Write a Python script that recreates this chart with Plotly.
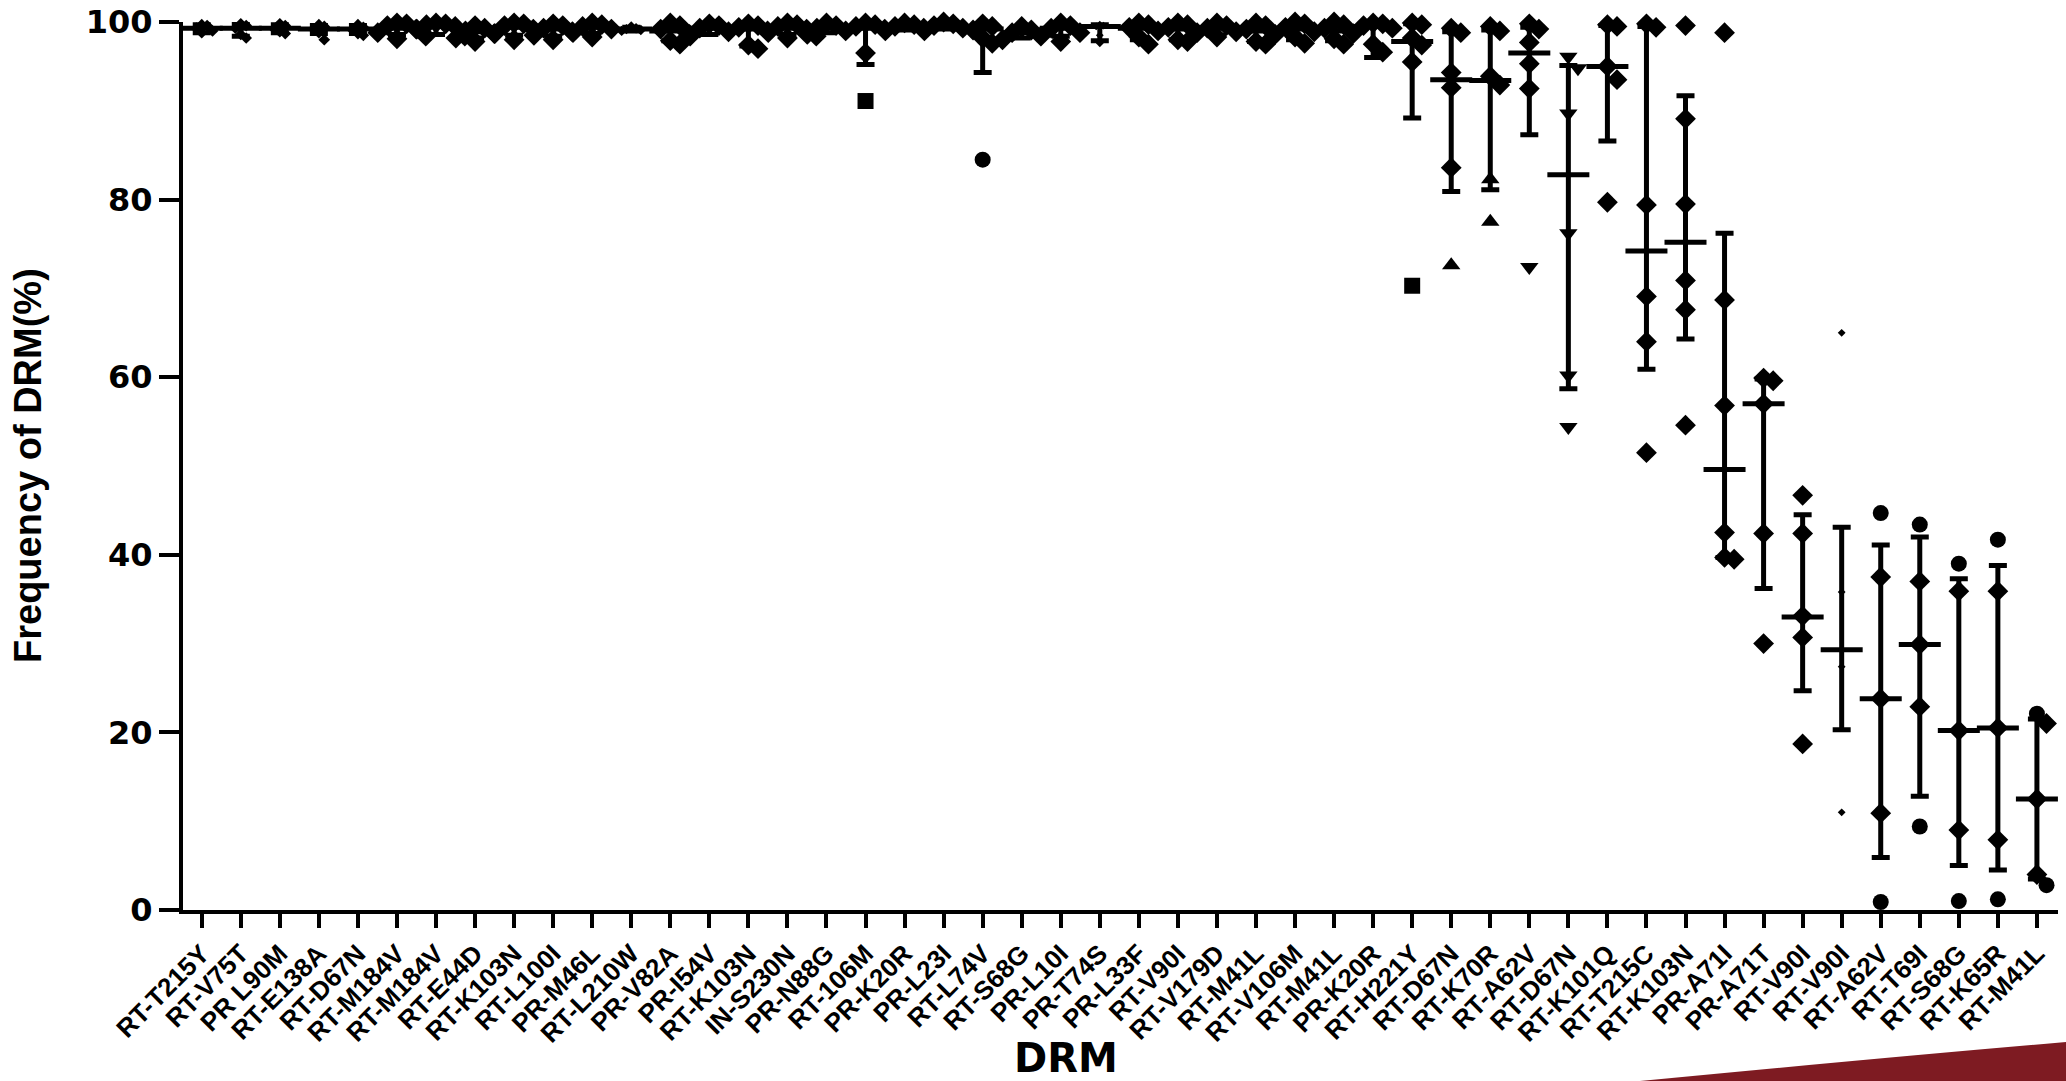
import plotly.graph_objects as go

# ---------------- data ----------------
labels = ["RT-T215Y", "RT-V75T", "PR L90M", "RT-E138A", "RT-D67N", "RT-M184V", "RT-M184V", "RT-E44D",
          "RT-K103N", "RT-L100I", "PR-M46L", "RT-L210W", "PR-V82A", "PR-I54V", "RT-K103N", "IN-S230N",
          "PR-N88G", "RT-106M", "PR-K20R", "PR-L23I", "RT-L74V", "RT-S68G", "PR-L10I", "PR-T74S",
          "PR-L33F", "RT-V90I", "RT-V179D", "RT-M41L", "RT-V106M", "RT-M41L", "PR-K20R", "RT-H221Y",
          "RT-D67N", "RT-K70R", "RT-A62V", "RT-D67N", "RT-K101Q", "RT-T215C", "RT-K103N", "PR-A71I",
          "PR-A71T", "RT-V90I", "RT-V90I", "RT-A62V", "RT-T69I", "RT-S68G", "RT-K65R", "RT-M41L"]

medians = [99.3, 99.3, 99.3, 99.2, 99.2, 99.3, 99.5, 98.9, 99.4, 99.2, 99.4, 99.2, 99.0, 99.3, 99.2, 99.3,
           99.3, 99.3, 99.5, 99.6, 99.2, 98.8, 99.3, 99.5, 99.3, 99.2, 99.3, 99.0, 99.2, 99.0, 99.5, 97.8,
           93.5, 93.4, 96.5, 82.8, 95.0, 74.2, 75.2, 49.6, 57.0, 33.0, 29.3, 23.8, 29.9, 20.2, 20.5, 12.5]
q1 = [98.8, 98.4, 98.8, 98.7, 98.7, 98.6, 98.6, 98.2, 98.5, 98.4, 98.7, 99.0, 97.9, 98.6, 97.3, 98.6,
      98.8, 95.2, 99.1, 99.2, 94.3, 98.2, 98.4, 97.9, 98.0, 98.0, 98.5, 97.8, 98.0, 97.9, 96.0, 89.2,
      80.9, 81.1, 87.3, 58.7, 86.6, 60.9, 64.3, 39.7, 36.2, 24.7, 20.3, 5.9, 12.8, 5.0, 4.5, 3.5]
q3 = [99.7, 99.8, 99.7, 99.6, 99.6, 99.8, 99.8, 99.4, 99.8, 99.6, 99.8, 99.4, 99.6, 99.7, 99.7, 99.7,
      99.7, 99.8, 99.8, 99.9, 99.7, 99.3, 99.7, 99.7, 99.8, 99.8, 99.8, 99.7, 99.9, 99.8, 99.8, 99.8,
      98.9, 99.1, 99.4, 95.1, 99.6, 99.5, 91.7, 76.2, 59.8, 44.5, 43.1, 41.1, 42.0, 37.3, 38.8, 21.5]

points = [
    [99.7, 99.6, 99.3, 99.0, 98.8],
    [99.8, 99.6, 99.3, 98.6, 98.2],
    [99.8, 99.6, 99.2, 98.9, 98.7],
    [99.7, 99.5, 99.2, 98.8, 98.0],
    [99.7, 99.4, 99.1, 98.7, 98.5],
    [99.9, 99.8, 99.6, 99.2, 98.8, 98.4, 98.1],
    [99.9, 99.8, 99.7, 99.5, 99.2, 98.4],
    [99.6, 99.3, 99.0, 98.7, 98.2, 97.8],
    [99.9, 99.8, 99.6, 99.2, 98.7, 98.0],
    [99.8, 99.6, 99.3, 98.9, 98.5, 98.0],
    [99.9, 99.7, 99.5, 99.2, 98.8, 98.3],
    [99.5, 99.3, 99.2, 99.1, 99.0],
    [99.9, 99.6, 99.2, 98.6, 97.9, 97.5],
    [99.8, 99.6, 99.3, 98.9, 98.4],
    [99.8, 99.6, 99.4, 99.0, 97.4, 97.0],
    [99.9, 99.7, 99.5, 99.2, 98.8, 98.4, 98.2],
    [99.9, 99.6, 99.3, 99.0, 98.6],
    [99.9, 99.7, 99.5, 99.2, 96.5, 91.1],
    [99.9, 99.7, 99.5, 99.3, 99.0],
    [100.0, 99.8, 99.6, 99.3, 99.0],
    [99.8, 99.5, 99.1, 98.2, 97.6, 84.5],
    [99.5, 99.1, 98.8, 98.4, 98.0],
    [99.9, 99.6, 99.3, 98.8, 97.8],
    [99.7, 99.6, 99.5, 98.5, 97.6],
    [99.9, 99.7, 99.4, 99.0, 98.3, 97.5],
    [99.9, 99.7, 99.4, 98.8, 98.0, 97.8],
    [99.9, 99.6, 99.3, 98.9, 98.3],
    [99.9, 99.6, 99.2, 98.6, 97.8, 97.5],
    [100.0, 99.8, 99.4, 98.9, 98.3, 97.6],
    [100.0, 99.7, 99.3, 98.7, 98.1, 97.5],
    [99.9, 99.8, 99.6, 99.3, 97.5, 96.6],
    [99.9, 99.7, 98.2, 97.4, 95.5, 70.3],
    [99.3, 98.8, 94.3, 92.6, 83.6, 72.6],
    [99.5, 99.0, 93.9, 92.9, 82.3, 77.5],
    [99.8, 99.2, 97.7, 95.3, 92.5, 72.4],
    [96.1, 94.8, 89.7, 76.2, 60.2, 54.4],
    [99.7, 99.5, 95.0, 93.5, 79.7],
    [99.8, 99.4, 79.4, 69.1, 64.0, 51.5],
    [99.6, 89.1, 79.5, 70.9, 67.6, 54.6],
    [98.8, 68.7, 56.8, 42.5, 39.7, 39.5],
    [59.9, 59.6, 57.0, 42.4, 30.0],
    [46.7, 42.4, 33.1, 30.7, 18.7],
    [65.0, 35.8, 29.3, 27.4, 11.0],
    [44.7, 37.5, 23.8, 10.9, 0.9],
    [43.4, 37.0, 29.9, 22.9, 9.4],
    [39.0, 35.9, 20.2, 9.0, 1.0],
    [41.7, 35.9, 20.5, 7.9, 1.2],
    [22.1, 21.0, 12.5, 4.0, 2.8],
]

# ---------------- styles (per column) ----------------
DEFAULT_SYM = "diamond"
special_symbols = {
    17: {5: "square"},
    20: {5: "circle"},
    31: {5: "square"},
    32: {5: "triangle-up"},
    33: {4: "triangle-up", 5: "triangle-up"},
    34: {5: "triangle-down"},
    35: {0: "triangle-down", 1: "triangle-down", 2: "triangle-down", 3: "triangle-down",
         4: "triangle-down", 5: "triangle-down"},
    43: {0: "circle", 4: "circle"},
    44: {0: "circle", 4: "circle"},
    45: {0: "circle", 4: "circle"},
    46: {0: "circle", 4: "circle"},
    47: {0: "circle", 4: "circle"},
}
small_cols = {0: 9, 1: 9, 2: 9, 3: 9, 4: 9, 11: 8, 23: 6, 42: 6}
NORMAL_SIZE = 16

# plot geometry (pixels)
W, H = 2066, 1081
L, R, T, B = 183, 8, 22, 171
PW, PH = W - L - R, H - T - B
XRANGE = [-0.48, 47.54]
PX_PER_X = PW / (XRANGE[1] - XRANGE[0])
PX_PER_Y = PH / 100.0


def swarm_offsets(vals, size):
    """GraphPad-like scatter: spread overlapping points sideways."""
    thr = 0.85 * size / PX_PER_Y
    step = 0.6 * size / PX_PER_X
    cands = [0, 1, -1, 2, -2, 3, -3]
    placed = []
    offs = []
    for v in vals:
        chosen = 0
        for c in cands:
            ok = all(not (abs(v - pv) < thr and abs(c - pc) < 1) for pv, pc in placed)
            if ok:
                chosen = c
                break
        placed.append((v, chosen))
        offs.append(chosen * step)
    return offs


xs, ys, syms, sizes = [], [], [], []
for i, pts in enumerate(points):
    sz = small_cols.get(i, NORMAL_SIZE)
    offs = swarm_offsets(pts, sz)
    for j, v in enumerate(pts):
        xs.append(i + offs[j])
        ys.append(v)
        syms.append(special_symbols.get(i, {}).get(j, DEFAULT_SYM))
        sizes.append(sz)

err_up = [max(h - m, 0) for h, m in zip(q3, medians)]
err_dn = [max(m - l, 0) for m, l in zip(medians, q1)]

fig = go.Figure()

# median with interquartile range
fig.add_trace(go.Scatter(
    x=list(range(len(labels))), y=medians, mode="markers",
    marker=dict(symbol="line-ew", size=30, color="black", opacity=1,
                line=dict(width=5, color="black")),
    error_y=dict(type="data", symmetric=False, array=err_up, arrayminus=err_dn,
                 color="black", thickness=5, width=9),
    cliponaxis=False, showlegend=False, hoverinfo="skip",
))

# individual points
fig.add_trace(go.Scatter(
    x=xs, y=ys, mode="markers",
    marker=dict(symbol=syms, size=sizes, color="black", opacity=1, line=dict(width=0)),
    cliponaxis=False, showlegend=False,
))


def px(xp):
    return (xp - L) / PW


def py(yp):
    return (H - B - yp) / PH


fig.update_layout(
    width=W, height=H,
    margin=dict(l=L, r=R, t=T, b=B, pad=0, autoexpand=False),
    plot_bgcolor="white", paper_bgcolor="white",
    xaxis=dict(
        range=XRANGE, tickmode="array", tickvals=list(range(len(labels))), ticktext=labels,
        tickangle=-45, showline=True, linewidth=4, linecolor="black", ticks="outside",
        ticklen=14, tickwidth=4, tickcolor="black", showgrid=False, zeroline=False,
        automargin=False,
        tickfont=dict(family="Liberation Sans", size=26, color="black", weight="bold"),
    ),
    yaxis=dict(
        range=[0, 100], tickmode="array", tickvals=[0, 20, 40, 60, 80, 100],
        showline=True, linewidth=4, linecolor="black", ticks="outside", ticklen=20, tickwidth=4,
        tickcolor="black", showgrid=False, zeroline=False, automargin=False,
        tickfont=dict(family="DejaVu Sans", size=32, color="black", weight="bold"),
    ),
    annotations=[
        dict(text="Frequency of DRM(%)", xref="paper", yref="paper", x=px(28), y=0.5,
             textangle=-90, showarrow=False, xanchor="center", yanchor="middle",
             font=dict(family="Liberation Sans", size=38, color="black", weight="bold")),
        dict(text="DRM", xref="paper", yref="paper", x=px(1066), y=py(1058),
             showarrow=False, xanchor="center", yanchor="middle",
             font=dict(family="DejaVu Sans", size=40, color="black", weight="bold")),
    ],
)

# decorative dark-red swoosh in the bottom-right corner (slide template)
path = (f"M {px(1640)},{py(1081)} Q {px(1900)},{py(1056)} {px(2066)},{py(1042)} "
        f"L {px(2066)},{py(1081)} Z")
fig.add_shape(type="path", path=path, xref="paper", yref="paper",
              fillcolor="#7e1b22", line=dict(width=0), layer="above")

fig.write_html("out.html", config={"displayModeBar": False},
               post_script="document.body.style.margin='0';")
